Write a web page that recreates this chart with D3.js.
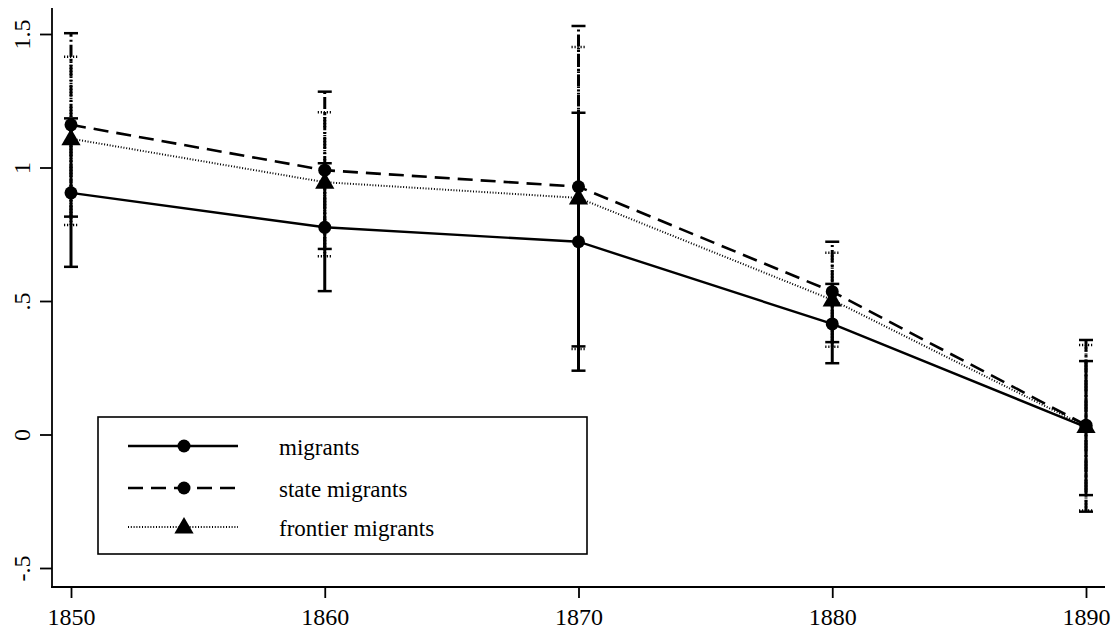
<!DOCTYPE html>
<html>
<head>
<meta charset="utf-8">
<script src="https://cdn.jsdelivr.net/npm/d3@7"></script>
<style>
  body { margin: 0; background: #fff; }
  text { font-family: "Liberation Serif", "Times New Roman", serif; fill: #000; }
</style>
</head>
<body>
<svg width="1115" height="630"></svg>
<script>
var svg = d3.select("svg"),
    width = +svg.attr("width"),
    height = +svg.attr("height");

// data
var years = [1850, 1860, 1870, 1880, 1890];
var yTicks = [-0.5, 0, 0.5, 1, 1.5];
var yTickLabels = ["-.5", "0", ".5", "1", "1.5"];

var migrants      = [0.905, 0.776, 0.722, 0.414, 0.028];
var migrantsLo    = [0.628, 0.537, 0.239, 0.267, -0.227];
var migrantsHi    = [1.184, 1.016, 1.205, 0.564, 0.275];

var stateMig      = [1.160, 0.990, 0.928, 0.535, 0.035];
var stateLo       = [0.816, 0.695, 0.330, 0.346, -0.289];
var stateHi       = [1.503, 1.284, 1.530, 0.722, 0.354];

var frontierMig   = [1.108, 0.945, 0.886, 0.504, 0.030];
var frontierLo    = [0.785, 0.668, 0.320, 0.329, -0.285];
var frontierHi    = [1.415, 1.207, 1.451, 0.681, 0.335];

var seriesNames = ["migrants", "state migrants", "frontier migrants"];

// layout
var plot = { left: 52, right: 1105, top: 8, bottom: 587 };

var x = d3.scaleLinear().domain([1850, 1890]).range([71, 1086]);
var y = d3.scaleLinear().domain([-0.5, 1.5]).range([568, 34]);

var series = [
    { name: seriesNames[0], vals: migrants, lo: migrantsLo, hi: migrantsHi,
      dash: null, width: 2.4, ciDash: null, ciWidth: 3, marker: "circle" },
    { name: seriesNames[1], vals: stateMig, lo: stateLo, hi: stateHi,
      dash: "15,8", width: 2.6, ciDash: "12,3,2,3", ciWidth: 3, marker: "circle" },
    { name: seriesNames[2], vals: frontierMig, lo: frontierLo, hi: frontierHi,
      dash: "1,1.8", width: 2, ciDash: "1.2,1.8", ciWidth: 3, marker: "triangle" }
];

// axes
var yAxis = svg.append("g")
    .attr("transform", "translate(" + plot.left + ",0)")
    .call(d3.axisLeft(y).tickValues(yTicks)
        .tickFormat(function (d, i) { return yTickLabels[i]; })
        .tickSize(12));
yAxis.select(".domain").remove();
yAxis.selectAll("line").attr("stroke-width", 1.8);
yAxis.selectAll("text")
    .attr("transform", "rotate(-90)")
    .attr("x", 0)
    .attr("y", -22)
    .attr("dy", 0)
    .style("text-anchor", "middle")
    .style("font-size", "24px")
    .style("font-family", "Liberation Serif");

var xAxis = svg.append("g")
    .attr("transform", "translate(0," + plot.bottom + ")")
    .call(d3.axisBottom(x).tickValues(years).tickFormat(d3.format("d")).tickSize(11));
xAxis.select(".domain").remove();
xAxis.selectAll("line").attr("stroke-width", 1.8);
xAxis.selectAll("text")
    .attr("y", 38)
    .attr("dy", 0)
    .style("font-size", "24px")
    .style("font-family", "Liberation Serif");

svg.append("line")
    .attr("x1", plot.left).attr("x2", plot.left)
    .attr("y1", plot.top).attr("y2", plot.bottom + 0.9)
    .attr("stroke", "#000").attr("stroke-width", 1.8);
svg.append("line")
    .attr("x1", plot.left - 0.9).attr("x2", plot.right)
    .attr("y1", plot.bottom).attr("y2", plot.bottom)
    .attr("stroke", "#000").attr("stroke-width", 1.8);

// confidence intervals: frontier first, migrants on top
var capW = 7;
[2, 1, 0].forEach(function (k) {
    var s = series[k];
    var g = svg.append("g").attr("class", "ci");
    years.forEach(function (yr, i) {
        g.append("line")
            .attr("x1", x(yr)).attr("x2", x(yr))
            .attr("y1", y(s.lo[i])).attr("y2", y(s.hi[i]))
            .attr("stroke", "#000").attr("stroke-width", s.ciWidth)
            .attr("stroke-dasharray", s.ciDash);
        [s.lo[i], s.hi[i]].forEach(function (v) {
            g.append("line")
                .attr("x1", x(yr) - capW).attr("x2", x(yr) + capW)
                .attr("y1", y(v)).attr("y2", y(v))
                .attr("stroke", "#000").attr("stroke-width", 2.5)
                .attr("stroke-dasharray", k === 2 ? "1.2,1.8" : null);
        });
    });
});

var line = d3.line()
    .x(function (d, i) { return x(years[i]); })
    .y(function (d) { return y(d); });

var tri = d3.symbol().type(d3.symbolTriangle).size(160);

function drawMarker(g, type, cx, cy) {
    if (type === "circle") {
        g.append("circle").attr("cx", cx).attr("cy", cy).attr("r", 6.5).attr("fill", "#000");
    } else {
        g.append("path").attr("d", tri)
            .attr("transform", "translate(" + cx + "," + (cy + 1) + ")")
            .attr("fill", "#000");
    }
}

series.forEach(function (s) {
    svg.append("path")
        .datum(s.vals)
        .attr("d", line)
        .attr("fill", "none")
        .attr("stroke", "#000")
        .attr("stroke-width", s.width)
        .attr("stroke-dasharray", s.dash);
});
series.forEach(function (s) {
    var g = svg.append("g");
    s.vals.forEach(function (v, i) { drawMarker(g, s.marker, x(years[i]), y(v)); });
});

// legend
var legend = svg.append("g").attr("transform", "translate(98,417)");
legend.append("rect")
    .attr("width", 489).attr("height", 137)
    .attr("fill", "#fff").attr("stroke", "#000").attr("stroke-width", 1.6);

var rowY = [29, 71, 110];
series.forEach(function (s, i) {
    legend.append("line")
        .attr("x1", 30).attr("x2", 140)
        .attr("y1", rowY[i]).attr("y2", rowY[i])
        .attr("stroke", "#000")
        .attr("stroke-width", s.width)
        .attr("stroke-dasharray", s.dash);
    drawMarker(legend, s.marker, 86, rowY[i]);
    legend.append("text")
        .attr("x", 181).attr("y", rowY[i] + 8.5)
        .style("font-size", "23px")
        .text(s.name);
});
</script>
</body>
</html>
